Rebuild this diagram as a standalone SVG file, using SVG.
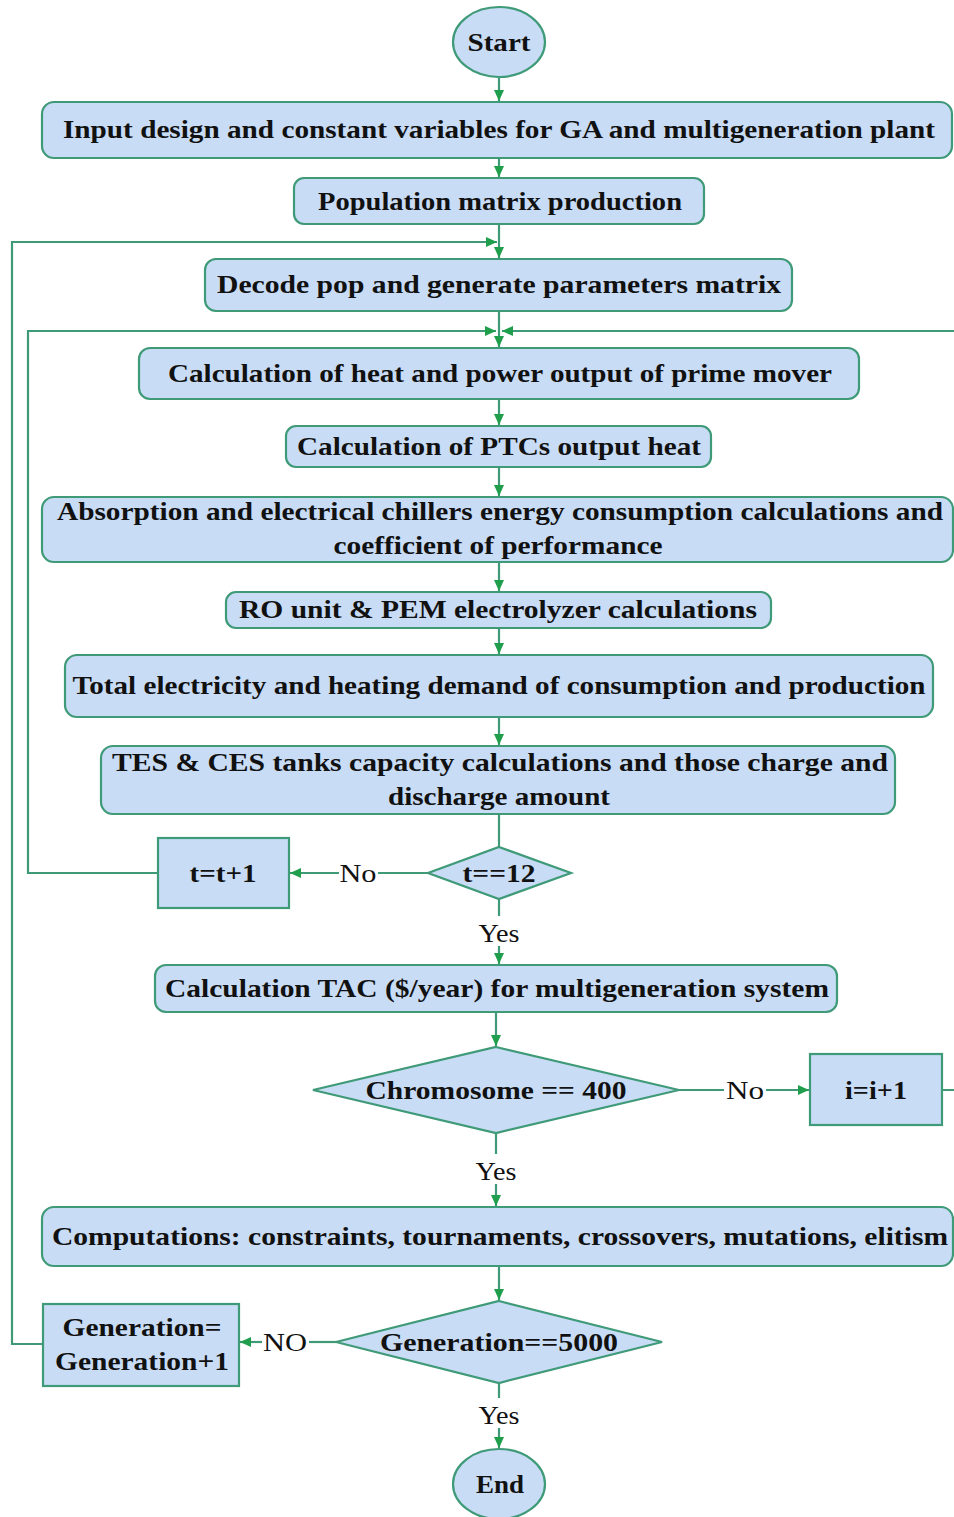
<svg xmlns="http://www.w3.org/2000/svg" width="954" height="1517" viewBox="0 0 954 1517">
<style>
.box{fill:#c8dcf6;stroke:#3f9a78;stroke-width:2.2}
.t{font-family:"Liberation Serif","Times New Roman",serif;font-weight:bold;font-size:26px;fill:#111;text-anchor:middle}
.lbl{font-family:"Liberation Serif","Times New Roman",serif;font-size:25px;fill:#111;text-anchor:middle}
.ln{fill:none;stroke:#3f9a78;stroke-width:2.2}
</style>
<defs>
<marker id="ah" markerUnits="userSpaceOnUse" markerWidth="12" markerHeight="10" refX="11" refY="5" orient="auto">
<path d="M0,0 L11,5 L0,10 z" fill="#1f9e4c"/>
</marker>
</defs>
<rect width="954" height="1517" fill="#ffffff"/>
<g id="connectors">
<path class="ln" d="M499,78 V101" marker-end="url(#ah)"/>
<path class="ln" d="M499,158 V177" marker-end="url(#ah)"/>
<path class="ln" d="M499,224 V258" marker-end="url(#ah)"/>
<path class="ln" d="M499,311 V347" marker-end="url(#ah)"/>
<path class="ln" d="M499,399 V425" marker-end="url(#ah)"/>
<path class="ln" d="M499,467 V496" marker-end="url(#ah)"/>
<path class="ln" d="M499,562 V591" marker-end="url(#ah)"/>
<path class="ln" d="M499,628 V654" marker-end="url(#ah)"/>
<path class="ln" d="M499,717 V745" marker-end="url(#ah)"/>
<path class="ln" d="M499,814 V847"/>
<path class="ln" d="M428,873 H378"/>
<path class="ln" d="M339,873 H290" marker-end="url(#ah)"/>
<path class="ln" d="M158,873 H28 V331 H496" marker-end="url(#ah)"/>
<path class="ln" d="M499,899 V916"/>
<path class="ln" d="M499,946 V964" marker-end="url(#ah)"/>
<path class="ln" d="M496,1012 V1046" marker-end="url(#ah)"/>
<path class="ln" d="M679,1090 H724"/>
<path class="ln" d="M766,1090 H809" marker-end="url(#ah)"/>
<path class="ln" d="M942,1090 H962 V331 H502" marker-end="url(#ah)"/>
<path class="ln" d="M496,1133 V1154"/>
<path class="ln" d="M496,1184 V1206" marker-end="url(#ah)"/>
<path class="ln" d="M499,1266 V1300" marker-end="url(#ah)"/>
<path class="ln" d="M336,1342 H309"/>
<path class="ln" d="M262,1342 H240" marker-end="url(#ah)"/>
<path class="ln" d="M43,1344 H12 V242 H497" marker-end="url(#ah)"/>
<path class="ln" d="M499,1383 V1398"/>
<path class="ln" d="M499,1428 V1448" marker-end="url(#ah)"/>
<text class="lbl" x="358" y="882" textLength="37" lengthAdjust="spacingAndGlyphs">No</text>
<text class="lbl" x="499" y="942" textLength="41" lengthAdjust="spacingAndGlyphs">Yes</text>
<text class="lbl" x="745" y="1099" textLength="38" lengthAdjust="spacingAndGlyphs">No</text>
<text class="lbl" x="496" y="1180" textLength="41" lengthAdjust="spacingAndGlyphs">Yes</text>
<text class="lbl" x="285" y="1351" textLength="44" lengthAdjust="spacingAndGlyphs">NO</text>
<text class="lbl" x="499" y="1424" textLength="41" lengthAdjust="spacingAndGlyphs">Yes</text>
</g>
<g id="start"><ellipse class="box" cx="499" cy="42" rx="46" ry="35"/><text class="t" x="499" y="51" textLength="63" lengthAdjust="spacingAndGlyphs">Start</text></g>
<g id="input"><rect class="box" x="42" y="102" width="910" height="56" rx="12"/><text class="t" x="499" y="138" textLength="872" lengthAdjust="spacingAndGlyphs">Input design and constant variables for GA and multigeneration plant</text></g>
<g id="population"><rect class="box" x="294" y="178" width="410" height="46" rx="10"/><text class="t" x="500" y="210" textLength="364" lengthAdjust="spacingAndGlyphs">Population matrix production</text></g>
<g id="decode"><rect class="box" x="205" y="259" width="587" height="52" rx="11"/><text class="t" x="499" y="293" textLength="564" lengthAdjust="spacingAndGlyphs">Decode pop and generate parameters matrix</text></g>
<g id="primemover"><rect class="box" x="139" y="348" width="720" height="51" rx="11"/><text class="t" x="500" y="382" textLength="664" lengthAdjust="spacingAndGlyphs">Calculation of heat and power output of prime mover</text></g>
<g id="ptc"><rect class="box" x="286" y="426" width="425" height="41" rx="10"/><text class="t" x="499" y="455" textLength="404" lengthAdjust="spacingAndGlyphs">Calculation of PTCs output heat</text></g>
<g id="chillers"><rect class="box" x="42" y="497" width="911" height="65" rx="12"/><text class="t" x="500" y="520" textLength="886" lengthAdjust="spacingAndGlyphs">Absorption and electrical chillers energy consumption calculations and</text><text class="t" x="498" y="554" textLength="329" lengthAdjust="spacingAndGlyphs">coefficient of performance</text></g>
<g id="ro"><rect class="box" x="226" y="592" width="545" height="36" rx="10"/><text class="t" x="498" y="618" textLength="518" lengthAdjust="spacingAndGlyphs">RO unit &amp; PEM electrolyzer calculations</text></g>
<g id="total"><rect class="box" x="65" y="655" width="868" height="62" rx="12"/><text class="t" x="499" y="694" textLength="853" lengthAdjust="spacingAndGlyphs">Total electricity and heating demand of consumption and production</text></g>
<g id="tes"><rect class="box" x="101" y="746" width="794" height="68" rx="12"/><text class="t" x="500" y="771" textLength="776" lengthAdjust="spacingAndGlyphs">TES &amp; CES tanks capacity calculations and those charge and</text><text class="t" x="499" y="805" textLength="222" lengthAdjust="spacingAndGlyphs">discharge amount</text></g>
<g id="t12"><polygon class="box" points="499,847 571,873 499,899 428,873"/><text class="t" x="499" y="882" textLength="73" lengthAdjust="spacingAndGlyphs">t==12</text></g>
<g id="tinc"><rect class="box" x="158" y="838" width="131" height="70"/><text class="t" x="223" y="882" textLength="67" lengthAdjust="spacingAndGlyphs">t=t+1</text></g>
<g id="tac"><rect class="box" x="155" y="965" width="682" height="47" rx="11"/><text class="t" x="497" y="997" textLength="664" lengthAdjust="spacingAndGlyphs">Calculation TAC ($/year) for multigeneration system</text></g>
<g id="chromosome"><polygon class="box" points="496,1047 679,1090 496,1133 313,1090"/><text class="t" x="496" y="1099" textLength="261" lengthAdjust="spacingAndGlyphs">Chromosome == 400</text></g>
<g id="iinc"><rect class="box" x="810" y="1054" width="132" height="71"/><text class="t" x="876" y="1099" textLength="62" lengthAdjust="spacingAndGlyphs">i=i+1</text></g>
<g id="computations"><rect class="box" x="42" y="1207" width="911" height="59" rx="12"/><text class="t" x="500" y="1245" textLength="896" lengthAdjust="spacingAndGlyphs">Computations: constraints, tournaments, crossovers, mutations, elitism</text></g>
<g id="generation"><polygon class="box" points="499,1301 662,1342 499,1383 336,1342"/><text class="t" x="499" y="1351" textLength="238" lengthAdjust="spacingAndGlyphs">Generation==5000</text></g>
<g id="geninc"><rect class="box" x="43" y="1304" width="196" height="82"/><text class="t" x="142" y="1336" textLength="159" lengthAdjust="spacingAndGlyphs">Generation=</text><text class="t" x="142" y="1370" textLength="174" lengthAdjust="spacingAndGlyphs">Generation+1</text></g>
<g id="end"><ellipse class="box" cx="499" cy="1484" rx="46" ry="35"/><text class="t" x="500" y="1493" textLength="48" lengthAdjust="spacingAndGlyphs">End</text></g>
</svg>
